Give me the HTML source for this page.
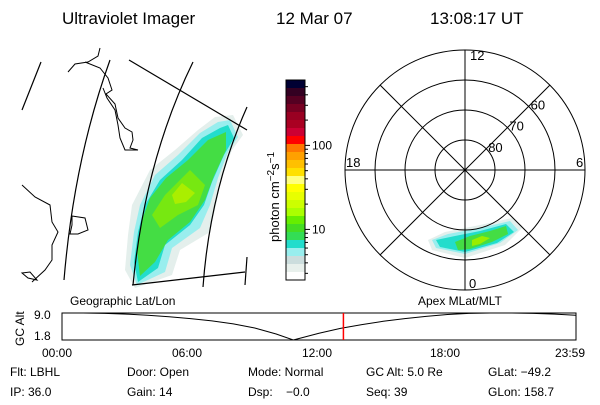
<!DOCTYPE html>
<html><head><meta charset="utf-8"><style>
body{margin:0;background:#fff;width:600px;height:400px;overflow:hidden}
svg text{font-family:"Liberation Sans",sans-serif;fill:#000}
</style></head><body>
<svg id="s" width="600" height="400" viewBox="0 0 600 400">
<g font-size="17">
<text x="62" y="24">Ultraviolet Imager</text>
<text x="276" y="24">12 Mar 07</text>
<text x="430" y="24">13:08:17 UT</text>
</g>
<g id="map" fill="none" stroke="#000" stroke-width="1.2">
<path stroke="none" fill="#e4efec" d="M233,115 L243,135 L232,150 L222,175 L216,205 L210,232 L180,250 L172,275 L135,288 L125,270 L128,235 L132,205 L150,170 L175,150 L198,130 L215,117 Z"/>
<path stroke="none" fill="#99eeee" d="M230,120 L238,137 L228,152 L218,178 L210,205 L200,228 L172,248 L165,272 L137,285 L130,265 L134,232 L140,205 L155,175 L178,155 L200,133 L218,122 Z"/>
<path stroke="none" fill="#22ddcc" d="M228,125 L234,138 L224,155 L212,182 L204,205 L190,225 L165,245 L158,268 L138,282 L134,262 L138,232 L145,205 L160,180 L182,160 L202,138 L220,128 Z"/>
<path stroke="none" fill="#44dd44" d="M226,132 L226,150 L214,176 L205,200 L190,222 L168,240 L155,262 L140,276 L137,250 L142,220 L150,198 L166,178 L188,160 L208,140 Z"/>
<path stroke="none" fill="#77e811" d="M190,170 L205,185 L198,205 L178,215 L160,228 L152,215 L165,195 Z"/>
<path stroke="none" fill="#aaee00" d="M182,183 L195,193 L186,202 L175,204 L172,195 Z"/>
<path d="M41,62 L22,110"/>
<path d="M110,60 Q74,160 64,280"/>
<path d="M193,62 Q145,160 133,285"/>
<path d="M247,107 Q210,190 203,287"/>
<path d="M129,60 L247,130"/>
<path d="M132,285 L245,272"/>
<path d="M247,257 L245,285"/>
<path stroke-width="1" d="M68,72 L75,64 L88,62 L98,56 L100,48 M85,62 L100,68 L108,78 L112,90 L106,94 L115,104 L118,118 L125,128 L132,132 L133,140 L130,148 L138,150 L132,150 L125,150 L120,138 L118,125 L115,110 L107,98 L103,88"/>
<path stroke-width="1" d="M22,185 L35,197 L50,205 L52,222 L58,232 L52,245 L52,260 L45,270 L32,282 M72,216 L85,218 L88,230 L78,234 L70,234 L72,225 Z M22,273 L30,272 L37,280 L28,278 Z"/>
</g>
<g id="cbar"></g>
<text font-size="13" transform="translate(279,242) rotate(-90)">photon cm<tspan dy="-5" font-size="10">−2</tspan><tspan dy="5">s</tspan><tspan dy="-5" font-size="10">−1</tspan></text>
<g id="polar" fill="none" stroke="#000" stroke-width="1"></g>
<g>
<text x="70" y="305" font-size="12">Geographic Lat/Lon</text>
<text x="418" y="305" font-size="12">Apex MLat/MLT</text>
<text font-size="12" transform="translate(24,346) rotate(-90)">GC Alt</text>
<text x="34" y="319" font-size="12">9.0</text>
<text x="34" y="340" font-size="12">1.8</text>
<rect x="62" y="313" width="514" height="27" fill="none" stroke="#000"/>
<g id="alt"></g>
</g>
<g font-size="12">
<text x="42" y="357">00:00</text><text x="172" y="357">06:00</text><text x="302" y="357">12:00</text><text x="430" y="357">18:00</text><text x="555" y="357">23:59</text>
</g>
<g font-size="12">
<text x="10" y="376">Flt: LBHL</text><text x="127" y="376">Door: Open</text><text x="248" y="376">Mode: Normal</text><text x="366" y="376">GC Alt: 5.0 Re</text><text x="488" y="376">GLat: −49.2</text>
<text x="10" y="396">IP: 36.0</text><text x="127" y="396">Gain: 14</text><text x="248" y="396">Dsp:&#160;&#160;&#160; −0.0</text><text x="366" y="396">Seq: 39</text><text x="488" y="396">GLon: 158.7</text>
</g>
</svg>
<script>
const NS='http://www.w3.org/2000/svg';
const barColors=['#000033','#330022','#550022','#770022','#990022','#aa0022','#cc0033','#ff0000','#ff7700','#ffa000','#ffc000','#ffe000','#ffff80','#ffff00','#e8ff00','#ccff00','#aaff00','#66ee00','#44dd22','#33dd55','#22ddcc','#99eeee','#ccdddd','#e8f0ec','#ffffff'];
const barTicks=['100','10'];
const barTickVals=[100,10];
const altHours=[0,1,2,3,4,5,6,7,8,9,10,10.8,11,12,13,14,15,16,17,18,19,20,21,22,23,23.98];
const altValues=[9.0,9.0,8.9,8.7,8.4,8.0,7.5,6.9,6.1,5.0,3.4,1.8,2.1,3.6,4.9,5.9,6.8,7.5,8.1,8.6,8.9,9.0,9.0,8.9,8.7,8.4];
const polarRings=[80,70,60,50];
const polarLabels=['80','70','60'];
const currentHour=13.14;
function mk(p,t,a){const e=document.createElementNS(NS,t);for(const k in a)e.setAttribute(k,a[k]);p.appendChild(e);return e;}
const cb=document.getElementById('cbar');const cx=286,cy=80,cw=19,ch=200;const bh=ch/barColors.length;
barColors.forEach((c,i)=>{const r=mk(cb,'rect',{x:cx,y:cy+i*bh,width:cw,height:bh+0.5,fill:c});

});
mk(cb,'rect',{x:cx,y:cy,width:cw,height:ch,fill:'none',stroke:'#000'});
const lmin=Math.log10(2.5),lmax=Math.log10(600);
const yv=v=>cy+ch-(Math.log10(v)-lmin)/(lmax-lmin)*ch;
barTickVals.forEach((v,i)=>{const y=yv(v);mk(cb,'line',{x1:cx+cw,x2:cx+cw+5,y1:y,y2:y,stroke:'#000'});
const t=mk(cb,'text',{x:cx+cw+7,y:y+4,'font-size':12});t.textContent=barTicks[i];

});
[3,4,5,6,7,8,9,20,30,40,50,60,70,80,90,200,300,400,500].forEach(v=>{const y=yv(v);if(y>cy&&y<cy+ch)mk(cb,'line',{x1:cx+cw,x2:cx+cw+3,y1:y,y2:y,stroke:'#000'});});
const pg=document.getElementById('polar');const pcx=465,pcy=170,rOuter=120;
const rr=lat=>(90-lat)/(90-50)*rOuter;
const blob=[['#e4efec',[[428,240],[445,232],[480,225],[512,218],[522,228],[505,245],[465,258],[432,250]]],['#99eeee',[[432,240],[448,234],[480,228],[510,221],[518,230],[500,243],[465,254],[436,248]]],['#22ddcc',[[436,240],[455,236],[480,231],[506,224],[514,232],[497,243],[465,252],[440,247]]],['#44dd44',[[455,242],[470,236],[490,231],[506,226],[508,234],[492,242],[470,249],[458,250]]],['#99ee00',[[472,240],[482,236],[490,238],[480,244],[472,246]]]];
blob.forEach(([c,pts])=>{const p=mk(pg,'polygon',{points:pts.map(q=>q.join(',')).join(' '),fill:c,stroke:'none'});

});
polarRings.forEach(l=>{const c=mk(pg,'circle',{cx:pcx,cy:pcy,r:rr(l)});

});
for(let k=0;k<4;k++){const a=k*Math.PI/4;const dx=Math.cos(a)*rOuter,dy=Math.sin(a)*rOuter;
const l=mk(pg,'line',{x1:pcx-dx,y1:pcy-dy,x2:pcx+dx,y2:pcy+dy});

}
polarLabels.forEach((s,i)=>{const r=rr(polarRings[i]);const t=mk(pg,'text',{x:pcx+r*0.707+2,y:pcy-r*0.707+3,'font-size':13,stroke:'none'});t.textContent=s;

});
[['12',pcx+5,pcy-rOuter+10],['6',pcx+rOuter-9,pcy-3],['18',pcx-rOuter+1,pcy-3],['0',pcx+4,pcy+rOuter-2]].forEach(([s,x,y])=>{const t=mk(pg,'text',{x:x,y:y,'font-size':13,stroke:'none'});t.textContent=s;

});
const ag=document.getElementById('alt');const ax0=62,aw=514,ay0=313,ahh=27;
const xs=h=>ax0+h/24*aw;const ys=v=>ay0+ahh-(v-1.8)/(9.0-1.8)*ahh;
const pl=mk(ag,'polyline',{points:altHours.map((h,i)=>xs(h)+','+ys(altValues[i])).join(' '),fill:'none',stroke:'#000'});


const rl=mk(ag,'line',{x1:xs(currentHour),x2:xs(currentHour),y1:ay0,y2:ay0+ahh,stroke:'#ff0000','stroke-width':1.5});


</script>
</body></html>
